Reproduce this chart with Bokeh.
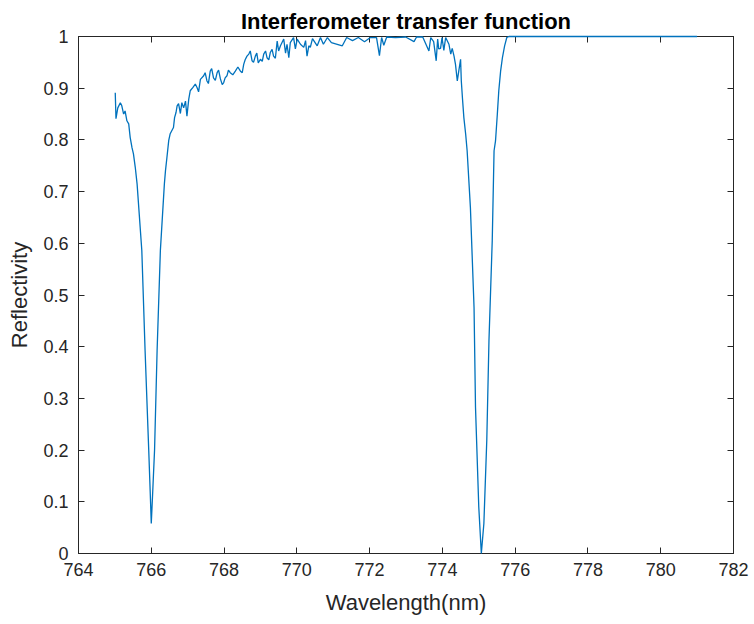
from bokeh.plotting import figure
from bokeh.models import Range1d, FixedTicker, LinearAxis
from bokeh.embed import file_html
from bokeh.resources import INLINE

# Wavelength (nm) and reflectivity
wavelength = [
    765.01, 765.03, 765.08, 765.15, 765.19, 765.24, 765.28, 765.33, 765.38, 765.42,
    765.47, 765.51, 765.56, 765.61, 765.74, 765.83, 765.93, 765.97, 766.00, 766.04,
    766.09, 766.16, 766.25, 766.36, 766.39, 766.43, 766.48, 766.52, 766.61, 766.64,
    766.68, 766.71, 766.75, 766.80, 766.84, 766.89, 766.94, 766.98, 767.03, 767.07,
    767.14, 767.21, 767.26, 767.30, 767.35, 767.44, 767.48, 767.53, 767.57, 767.62,
    767.66, 767.71, 767.76, 767.81, 767.85, 767.90, 767.95, 767.99, 768.03, 768.08,
    768.12, 768.17, 768.24, 768.31, 768.38, 768.45, 768.50, 768.54, 768.58, 768.63,
    768.68, 768.72, 768.77, 768.81, 768.86, 768.90, 768.94, 769.00, 769.05, 769.09,
    769.14, 769.18, 769.23, 769.27, 769.32, 769.36, 769.41, 769.46, 769.50, 769.55,
    769.64, 769.69, 769.73, 769.78, 769.82, 769.91, 769.96, 770.01, 770.10, 770.19,
    770.24, 770.28, 770.33, 770.37, 770.43, 770.56, 770.65, 770.73, 770.84, 770.95,
    771.11, 771.25, 771.37, 771.53, 771.69, 771.86, 772.02, 772.19, 772.27, 772.33,
    772.39, 772.47, 772.71, 772.99, 773.22, 773.29, 773.46, 773.63, 773.68, 773.76,
    773.83, 773.87, 773.90, 773.95, 773.99, 774.04, 774.09, 774.18, 774.23, 774.27,
    774.32, 774.36, 774.41, 774.45, 774.50, 774.52, 774.55, 774.59, 774.64, 774.68,
    774.77, 774.87, 774.91, 775.00, 775.07, 775.14, 775.22, 775.28, 775.37, 775.42,
    775.46, 775.51, 775.55, 775.60, 775.65, 775.71, 775.77, 775.83, 776.50, 778.00,
    780.00, 781.00,
]
reflectivity = [
    0.891, 0.841, 0.862, 0.872, 0.866, 0.850, 0.856, 0.837, 0.831, 0.805,
    0.785, 0.773, 0.747, 0.715, 0.586, 0.392, 0.200, 0.120, 0.058, 0.120,
    0.200, 0.392, 0.586, 0.715, 0.740, 0.766, 0.799, 0.812, 0.824, 0.843,
    0.853, 0.866, 0.870, 0.851, 0.872, 0.862, 0.875, 0.846, 0.879, 0.895,
    0.901, 0.908, 0.901, 0.893, 0.917, 0.924, 0.930, 0.914, 0.909, 0.933,
    0.938, 0.920, 0.915, 0.930, 0.935, 0.918, 0.907, 0.911, 0.920, 0.924,
    0.935, 0.930, 0.926, 0.933, 0.941, 0.933, 0.930, 0.946, 0.955, 0.962,
    0.966, 0.972, 0.953, 0.950, 0.962, 0.968, 0.949, 0.956, 0.952, 0.966,
    0.972, 0.959, 0.955, 0.969, 0.975, 0.962, 0.958, 0.991, 0.972, 0.982,
    0.995, 0.968, 0.985, 0.959, 0.988, 0.998, 0.976, 0.995, 0.985, 0.979,
    0.992, 0.962, 0.982, 0.979, 0.996, 0.982, 0.998, 0.985, 0.998, 0.988,
    0.985, 0.982, 0.998, 0.992, 0.998, 0.990, 0.998, 0.998, 0.963, 0.998,
    0.983, 0.999, 0.998, 0.999, 0.990, 0.999, 0.999, 0.972, 0.998, 0.990,
    0.953, 0.995, 0.976, 0.977, 0.998, 0.973, 0.998, 0.985, 0.966, 0.977,
    0.962, 0.946, 0.914, 0.933, 0.956, 0.914, 0.882, 0.843, 0.811, 0.779,
    0.669, 0.476, 0.283, 0.090, 0.000, 0.058, 0.219, 0.412, 0.605, 0.779,
    0.798, 0.850, 0.895, 0.933, 0.959, 0.982, 0.998, 1.000, 1.000, 1.000,
    1.000, 1.000,
]
x_ticks = [764, 766, 768, 770, 772, 774, 776, 778, 780, 782]
y_ticks = [0, 0.1, 0.2, 0.3, 0.4, 0.5, 0.6, 0.7, 0.8, 0.9, 1]
y_tick_labels = {0: "0", 0.1: "0.1", 0.2: "0.2", 0.3: "0.3", 0.4: "0.4", 0.5: "0.5",
                 0.6: "0.6", 0.7: "0.7", 0.8: "0.8", 0.9: "0.9", 1: "1"}

FONT = "Liberation Sans"
AX = "#262626"

p = figure(width=754, height=624, output_backend="svg", toolbar_location=None,
           x_range=Range1d(764, 782), y_range=Range1d(0, 1),
           min_border_left=78, min_border_right=21, min_border_top=36, min_border_bottom=71,
           title="Interferometer transfer function")
p.title.align = "center"
p.title.text_font = FONT
p.title.text_font_size = "22px"
p.title.text_font_style = "bold"
p.title.text_color = "#000000"
p.title.standoff = 6

r = p.line(wavelength, reflectivity, line_color="#0072BD", line_width=1.3)
r.level = "overlay"

p.xgrid.visible = False
p.ygrid.visible = False
p.outline_line_color = AX
p.outline_line_width = 1
p.outline_line_alpha = 1
p.background_fill_color = "white"
p.border_fill_color = "white"

def style(ax, show_labels=True):
    ax.axis_line_color = AX
    ax.major_tick_line_color = AX
    ax.major_tick_in = 6
    ax.major_tick_out = 0
    ax.minor_tick_line_color = None
    ax.major_label_text_font = FONT
    ax.major_label_text_font_size = "18px"
    ax.major_label_text_color = AX
    ax.axis_label_text_font = FONT
    ax.axis_label_text_font_size = "22px"
    ax.axis_label_text_font_style = "normal"
    ax.axis_label_text_color = AX
    if not show_labels:
        ax.major_label_text_font_size = "0px"
        ax.major_label_text_alpha = 0

xa = p.xaxis[0]
ya = p.yaxis[0]
xa.ticker = FixedTicker(ticks=x_ticks)
ya.ticker = FixedTicker(ticks=y_ticks)
ya.major_label_overrides = y_tick_labels
xa.axis_label = "Wavelength(nm)"
ya.axis_label = "Reflectivity"
style(xa)
style(ya)
xa.major_label_standoff = 9
ya.major_label_standoff = 10
xa.axis_label_standoff = 11
ya.axis_label_standoff = 8

top = LinearAxis(ticker=FixedTicker(ticks=x_ticks))
right = LinearAxis(ticker=FixedTicker(ticks=y_ticks))
style(top, False)
style(right, False)
top.major_label_standoff = 0
right.major_label_standoff = 0
p.add_layout(top, "above")
p.add_layout(right, "right")

open("out.html", "w").write(file_html(p, INLINE))
